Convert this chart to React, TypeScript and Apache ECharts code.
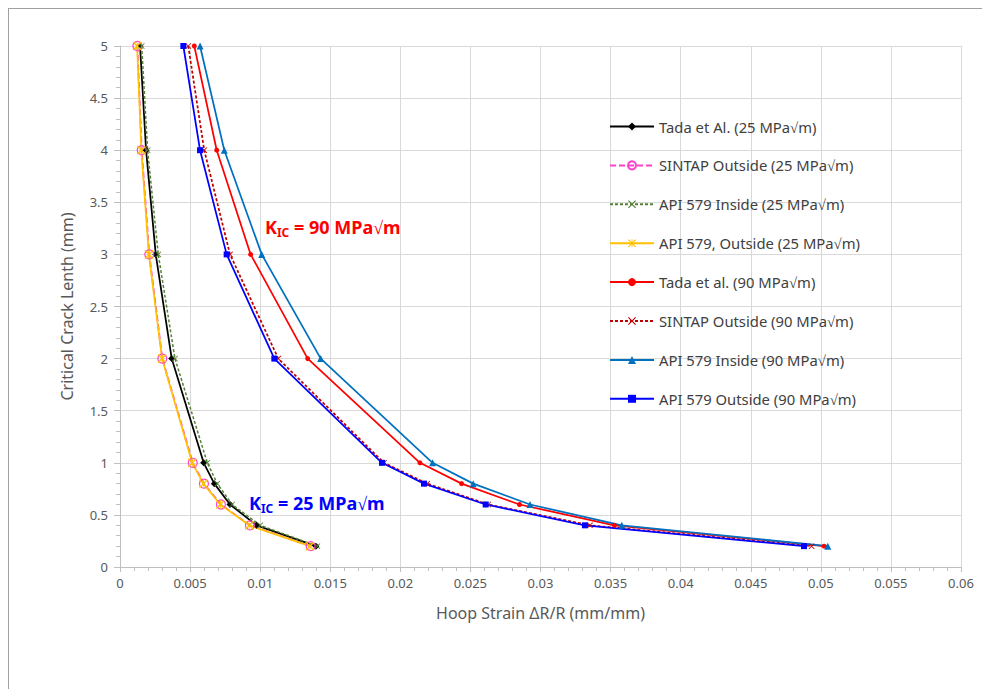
import React, { useEffect, useRef } from "react";
import * as echarts from "echarts";

const crackLength = [5, 4, 3, 2, 1, 0.8, 0.6, 0.4, 0.2];
const tada25 = [0.00143, 0.00186, 0.00255, 0.00369, 0.00597, 0.00673, 0.00785, 0.00975, 0.01398];
const sintap25 = [0.00124, 0.00155, 0.00209, 0.00302, 0.00519, 0.00599, 0.0072, 0.00927, 0.0136];
const apiIn25 = [0.00155, 0.00197, 0.00273, 0.00392, 0.00623, 0.00694, 0.008, 0.01, 0.01408];
const apiOut25 = [0.00122, 0.00152, 0.00206, 0.003, 0.00515, 0.00595, 0.00716, 0.00922, 0.01355];
const tada90 = [0.0053, 0.0069, 0.00932, 0.01339, 0.0214, 0.02437, 0.0285, 0.03527, 0.05023];
const sintap90 = [0.00487, 0.00601, 0.00785, 0.01129, 0.01883, 0.02192, 0.02627, 0.03353, 0.04934];
const apiIn90 = [0.00571, 0.00744, 0.01011, 0.01432, 0.0223, 0.0252, 0.02925, 0.0358, 0.0505];
const apiOut90 = [0.00452, 0.00571, 0.00761, 0.01101, 0.01869, 0.02169, 0.02609, 0.03317, 0.0488];

const seriesNames = [
  "Tada et Al. (25 MPa√m)",
  "SINTAP Outside (25 MPa√m)",
  "API 579 Inside (25 MPa√m)",
  "API 579, Outside (25 MPa√m)",
  "Tada et al. (90 MPa√m)",
  "SINTAP Outside (90 MPa√m)",
  "API 579 Inside (90 MPa√m)",
  "API 579 Outside (90 MPa√m)",
];

const X_PATH =
  "path://M1,0 L5,4 L9,0 L10,1 L6,5 L10,9 L9,10 L5,6 L1,10 L0,9 L4,5 L0,1 Z";
const STAR_PATH =
  "path://M1,0 L5,4 L9,0 L10,1 L6,5 L10,9 L9,10 L5,6 L1,10 L0,9 L4,5 L0,1 Z M4.5,0 L5.5,0 L5.5,10 L4.5,10 Z";

function pairs(xs: number[]) {
  return xs.map((x, i) => [x, crackLength[i]]);
}

export default function App() {
  const ref = useRef<HTMLDivElement>(null);
  useEffect(() => {
    if (!ref.current) return;
    const chart = echarts.init(ref.current, undefined, { renderer: "svg" });
    const mk = (
      name: string,
      data: number[],
      color: string,
      symbol: string,
      symbolSize: number,
      lineType: any,
      width: number,
      hollow = false
    ) => ({
      name,
      type: "line",
      data: pairs(data),
      symbol,
      symbolSize,
      showSymbol: true,
      lineStyle: { color, width, type: lineType },
      itemStyle: hollow
        ? { color: "rgba(255,255,255,0)", borderColor: color, borderWidth: 1.2 }
        : { color, borderColor: color, borderWidth: 0 },
      emphasis: { disabled: true },
      z: 3,
    });
    const option: any = {
      animation: false,
      backgroundColor: "transparent",
      textStyle: { fontFamily: "Noto Sans" },
      grid: { left: 120, right: 21, top: 46, bottom: 122, containLabel: false },
      xAxis: {
        type: "value",
        min: 0,
        max: 0.06,
        interval: 0.005,
        name: "Hoop Strain ΔR/R (mm/mm)",
        nameLocation: "middle",
        nameGap: 38,
        nameTextStyle: { color: "#595959", fontSize: 16, fontFamily: "Noto Sans" },
        axisLine: { show: true, lineStyle: { color: "#bfbfbf", width: 1 } },
        axisTick: { show: true, length: 5, lineStyle: { color: "#bfbfbf" } },
        minorTick: { show: true, splitNumber: 5, length: 4, lineStyle: { color: "#bfbfbf" } },
        axisLabel: { color: "#595959", fontSize: 13, margin: 9 },
        splitLine: { show: true, lineStyle: { color: "#d9d9d9", width: 1 } },
      },
      yAxis: {
        type: "value",
        min: 0,
        max: 5,
        interval: 0.5,
        name: "Critical Crack Lenth (mm)",
        nameLocation: "middle",
        nameGap: 45,
        nameTextStyle: { color: "#595959", fontSize: 16, fontFamily: "Noto Sans" },
        axisLine: { show: true, lineStyle: { color: "#bfbfbf", width: 1 } },
        axisTick: { show: true, length: 6, lineStyle: { color: "#bfbfbf" } },
        minorTick: { show: true, splitNumber: 5, length: 4, lineStyle: { color: "#bfbfbf" } },
        axisLabel: { color: "#595959", fontSize: 13, margin: 12 },
        splitLine: { show: true, lineStyle: { color: "#d9d9d9", width: 1 } },
      },
      legend: {
        orient: "vertical",
        left: 604,
        top: 114,
        itemWidth: 44,
        itemHeight: 10,
        itemGap: 23.9,
        textStyle: { color: "#404040", fontSize: 14.8, fontFamily: "Noto Sans" },
        data: seriesNames,
      },
      series: [
        mk(seriesNames[0], tada25, "#000000", "diamond", 7, "solid", 1.75),
        mk(seriesNames[1], sintap25, "#ff40c8", "circle", 9, [6, 3], 1.75, true),
        mk(seriesNames[2], apiIn25, "#548235", X_PATH, 6, [3, 2], 1.5),
        mk(seriesNames[3], apiOut25, "#ffc000", STAR_PATH, 9, "solid", 1.75),
        mk(seriesNames[4], tada90, "#ff0000", "circle", 5, "solid", 1.75),
        mk(seriesNames[5], sintap90, "#c00000", X_PATH, 6, [3, 2], 1.75),
        mk(seriesNames[6], apiIn90, "#0070c0", "triangle", 7, "solid", 1.75),
        mk(seriesNames[7], apiOut90, "#0000ff", "rect", 6, "solid", 1.75),
      ],
      graphic: [
        {
          type: "text",
          left: 265,
          top: 218,
          z: 10,
          style: {
            text: "{k|K}{s|IC}{k| = 90 MPa√m}",
            rich: {
              k: { fontSize: 18, fontWeight: "bold", fill: "#ff0000", fontFamily: "Noto Sans" },
              s: { fontSize: 12, fontWeight: "bold", fill: "#ff0000", fontFamily: "Noto Sans", padding: [10, 0, 0, 0] },
            },
          },
        },
        {
          type: "text",
          left: 249,
          top: 494,
          z: 10,
          style: {
            text: "{k|K}{s|IC}{k| = 25 MPa√m}",
            rich: {
              k: { fontSize: 18, fontWeight: "bold", fill: "#0000ff", fontFamily: "Noto Sans" },
              s: { fontSize: 12, fontWeight: "bold", fill: "#0000ff", fontFamily: "Noto Sans", padding: [10, 0, 0, 0] },
            },
          },
        },
      ],
    };
    chart.setOption(option);
    return () => chart.dispose();
  }, []);
  return (
    <>
      <div
        style={{
          position: "absolute",
          left: 8,
          top: 8,
          width: 974,
          height: 681,
          boxSizing: "border-box",
          borderTop: "1px solid #a0a0a0",
          borderLeft: "1px solid #a0a0a0",
        }}
      />
      <div
        ref={ref}
        style={{ position: "absolute", left: 0, top: 0, width: 982, height: 689 }}
      />
    </>
  );
}
